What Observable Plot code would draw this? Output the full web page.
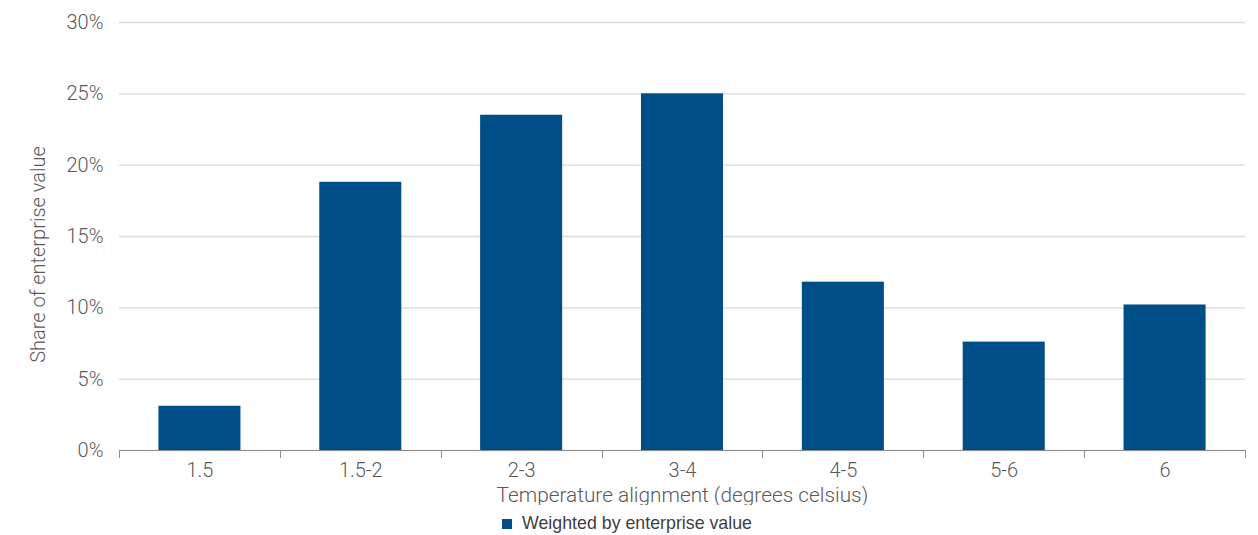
<!DOCTYPE html>
<html>
<head>
<meta charset="utf-8">
<script src="https://cdn.jsdelivr.net/npm/d3@7"></script>
<script src="https://cdn.jsdelivr.net/npm/@observablehq/plot@0.6"></script>
<style>
  html, body { margin: 0; padding: 0; background: #fff; }
  #chart { width: 1258px; }
  .legend { position: relative; height: 30px; font-family: "Liberation Sans", Arial, sans-serif; font-size: 17.8px; color: #404040; }
  .legend .item { position: absolute; left: 502px; top: 8px; display: flex; align-items: center; }
  .legend .sw { width: 10px; height: 10px; background: #004e87; margin-right: 10px; }
</style>
</head>
<body>
<div id="chart"></div>
<script>
const categories = ["1.5", "1.5-2", "2-3", "3-4", "4-5", "5-6", "6"];
const values = [3.1, 18.8, 23.5, 25.0, 11.8, 7.6, 10.2];
const yTicks = [0, 5, 10, 15, 20, 25, 30];
const seriesName = "Weighted by enterprise value";
const xTitle = "Temperature alignment (degrees celsius)";
const yTitle = "Share of enterprise value";
const barColor = "#004e87";

const data = categories.map((c, i) => ({category: c, value: values[i]}));

// Category dividers on the x axis (Excel-style ticks between categories)
function dividers(index, scales, vals, dims) {
  const x = scales.x;
  const step = x.step();
  const y0 = scales.y(0);
  const g = d3.create("svg:g").attr("stroke", "#8c8c8c").attr("stroke-width", 1);
  const positions = categories.map(c => x(c) - (step - x.bandwidth()) / 2);
  positions.push(x(categories[categories.length - 1]) + x.bandwidth() + (step - x.bandwidth()) / 2);
  for (const p of positions) {
    g.append("line").attr("x1", Math.round(p) + 0.5).attr("x2", Math.round(p) + 0.5)
      .attr("y1", y0).attr("y2", y0 + 8);
  }
  g.append("line").attr("x1", positions[0]).attr("x2", positions[positions.length - 1])
    .attr("y1", Math.round(y0) + 0.5).attr("y2", Math.round(y0) + 0.5);
  return g.node();
}

const chart = Plot.plot({
  width: 1258,
  height: 505,
  marginTop: 22,
  marginBottom: 55,
  marginLeft: 119,
  marginRight: 13,
  style: {fontFamily: "Roboto, sans-serif", fontSize: "20px", color: "#595959", background: "#fff"},
  x: {domain: categories, paddingInner: 0.49, paddingOuter: 0.245, round: false, label: null},
  y: {domain: [0, 30], label: null},
  marks: [
    Plot.gridY(yTicks, {stroke: "#d9d9d9", strokeOpacity: 1, strokeWidth: 1.3}),
    Plot.barY(data, {x: "category", y: "value", fill: barColor}),
    dividers,
    Plot.axisY(yTicks, {tickSize: 0, tickPadding: 16, tickFormat: d => d + "%", fontSize: 20, fontWeight: 300, fill: "#595959", label: null}),
    Plot.axisX({tickSize: 0, tickPadding: 12, fontSize: 20, fontWeight: 300, fill: "#595959", label: null}),
    Plot.text([xTitle], {frameAnchor: "bottom", dy: 51, fontSize: 20.8, fontWeight: 300, fill: "#595959"}),
    Plot.text([yTitle], {frameAnchor: "left", textAnchor: "middle", rotate: -90, dx: -81, dy: 18, fontSize: 20, fontWeight: 300, fill: "#595959"})
  ]
});

const root = document.getElementById("chart");
root.appendChild(chart);
const legend = document.createElement("div");
legend.className = "legend";
legend.innerHTML = `<div class="item"><div class="sw"></div><span>${seriesName}</span></div>`;
root.appendChild(legend);
</script>
</body>
</html>
